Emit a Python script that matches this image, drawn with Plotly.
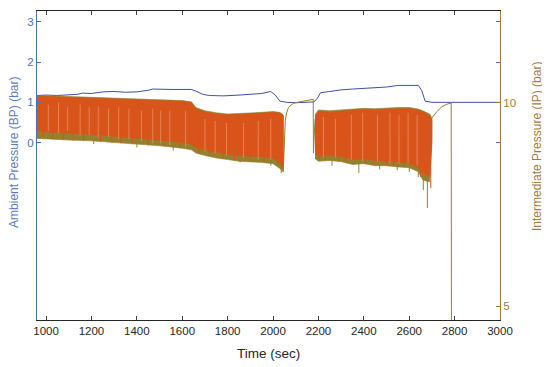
import plotly.graph_objects as go

# ---------------- data ----------------
# Ambient pressure BP (left axis, bar)
bp_time = [960, 1000, 1050, 1100, 1140, 1160, 1200, 1250, 1300, 1350, 1400, 1450, 1470, 1550,
           1600, 1640, 1660, 1690, 1720, 1780, 1850, 1900, 1950, 1990, 2010, 2030, 2060, 2100,
           2180, 2195, 2210, 2250, 2300, 2350, 2400, 2450, 2500, 2550, 2600, 2640, 2655, 2670,
           2700, 2800, 2900, 3000]
bp_value = [1.17, 1.18, 1.17, 1.18, 1.20, 1.23, 1.22, 1.26, 1.27, 1.25, 1.26, 1.30, 1.33, 1.32,
            1.33, 1.32, 1.28, 1.20, 1.17, 1.16, 1.18, 1.20, 1.22, 1.27, 1.18, 1.03, 1.00, 0.99,
            1.01, 1.10, 1.24, 1.27, 1.31, 1.33, 1.35, 1.37, 1.38, 1.42, 1.43, 1.42, 1.30, 1.03,
            1.00, 1.00, 0.99, 1.00]

# Intermediate pressure IP (right axis, bar) - oscillating band, segment 1
band1_time = [960, 1000, 1100, 1200, 1300, 1400, 1500, 1600, 1640, 1660, 1700, 1750, 1800,
              1850, 1900, 1950, 2000, 2030, 2045]
band1_upper = [10.17, 10.17, 10.15, 10.13, 10.10, 10.08, 10.07, 10.05, 10.02, 9.88, 9.80, 9.75,
               9.72, 9.73, 9.74, 9.76, 9.78, 9.76, 9.70]
band1_lower = [9.12, 9.10, 9.08, 9.06, 9.02, 8.98, 8.94, 8.88, 8.84, 8.76, 8.70, 8.64, 8.60,
               8.56, 8.54, 8.53, 8.50, 8.38, 8.30]
band1_orange_upper = [10.15, 10.15, 10.13, 10.11, 10.08, 10.06, 10.05, 10.03, 10.00, 9.84, 9.77,
                      9.72, 9.70, 9.71, 9.72, 9.74, 9.76, 9.74, 9.68]
band1_orange_lower = [9.32, 9.28, 9.25, 9.22, 9.18, 9.13, 9.08, 9.02, 8.98, 8.90, 8.84, 8.78,
                      8.74, 8.70, 8.68, 8.67, 8.64, 8.52, 8.42]

# recovery after segment 1 then drop into segment 2
rec1_time = [2045, 2050, 2054, 2060, 2068, 2080, 2090, 2110, 2134, 2160, 2177, 2178, 2185]
rec1_value = [8.30, 9.00, 9.57, 9.75, 9.88, 9.94, 9.98, 10.01, 10.04, 10.06, 10.08, 8.76, 9.60]

# oscillating band, segment 2
band2_time = [2185, 2200, 2250, 2300, 2350, 2400, 2450, 2500, 2550, 2600, 2640, 2660, 2690, 2700]
band2_upper = [9.70, 9.82, 9.80, 9.82, 9.84, 9.86, 9.85, 9.87, 9.88, 9.88, 9.84, 9.80, 9.72, 9.62]
band2_lower = [8.62, 8.56, 8.58, 8.55, 8.48, 8.50, 8.45, 8.45, 8.42, 8.40, 8.30, 8.10, 8.05, 9.00]
band2_orange_upper = [9.66, 9.78, 9.76, 9.79, 9.81, 9.83, 9.82, 9.84, 9.85, 9.85, 9.81, 9.77,
                      9.68, 9.58]
band2_orange_lower = [8.74, 8.70, 8.71, 8.68, 8.61, 8.62, 8.58, 8.57, 8.54, 8.51, 8.42, 8.26,
                      8.20, 9.10]

# recovery after segment 2 and final drop
rec2_time = [2700, 2710, 2722, 2744, 2766, 2785, 2787, 3000]
rec2_value = [9.62, 9.70, 9.78, 9.90, 9.96, 9.99, 0.0, 0.0]

# downward spikes below the band (olive)
spike_time = [1210, 1400, 1560, 1855, 1990, 2036, 2260, 2378, 2470, 2547, 2600, 2640, 2662, 2680]
spike_top = [9.3, 9.2, 9.1, 9.0, 9.0, 9.0, 9.0, 9.2, 9.0, 9.2, 9.0, 9.2, 9.0, 8.8]
spike_low = [8.98, 8.90, 8.82, 8.53, 8.45, 8.27, 8.45, 8.27, 8.36, 8.34, 8.30, 8.17, 7.85, 7.41]

# orange spikes reaching through the lower part of the band
ospike_time = [985, 1030, 1075, 1120, 1165, 1240, 1290, 1330, 1380, 1450, 1520, 1590, 1675,
               1720, 1780, 1830, 1900, 1960, 2020, 2205, 2230, 2290, 2320, 2410, 2440, 2500,
               2530, 2575, 2620, 2650, 2695]
ospike_top = [9.6, 9.6, 9.6, 9.5, 9.5, 9.5, 9.5, 9.4, 9.4, 9.4, 9.3, 9.3, 9.2, 9.2, 9.1, 9.1,
              9.1, 9.1, 9.0, 9.2, 9.2, 9.2, 9.2, 9.2, 9.2, 9.2, 9.2, 9.2, 9.2, 9.0, 9.6]
ospike_low = [9.12, 9.10, 9.09, 9.07, 9.06, 9.04, 9.02, 9.00, 8.98, 8.95, 8.93, 8.88, 8.76,
              8.70, 8.62, 8.58, 8.55, 8.54, 8.46, 8.58, 8.57, 8.56, 8.55, 8.50, 8.47, 8.46,
              8.44, 8.43, 8.40, 8.18, 7.90]

# light streaks crossing the band
streak_time = [1010, 1055, 1095, 1150, 1190, 1230, 1275, 1320, 1365, 1420, 1470, 1505, 1545,
               1615, 1700, 1745, 1795, 1870, 1935, 1990, 2222, 2275, 2345, 2395, 2460, 2515,
               2555, 2595, 2635]
streak_top = [9.95, 10.0, 9.9, 9.95, 9.9, 9.9, 9.85, 9.9, 9.85, 9.8, 9.85, 9.8, 9.8, 9.8, 9.6,
              9.55, 9.5, 9.5, 9.55, 9.6, 9.65, 9.6, 9.7, 9.75, 9.7, 9.75, 9.7, 9.75, 9.7]
streak_low = [9.3, 9.25, 9.3, 9.2, 9.2, 9.15, 9.15, 9.1, 9.1, 9.05, 9.0, 9.0, 8.95, 8.9, 8.8,
              8.75, 8.7, 8.65, 8.6, 8.6, 8.65, 8.65, 8.6, 8.55, 8.55, 8.5, 8.5, 8.5, 8.45]

x_ticks = [1000, 1200, 1400, 1600, 1800, 2000, 2200, 2400, 2600, 2800, 3000]
left_ticks = [0, 1, 2, 3]
right_ticks = [5, 10]

# ---------------- style ----------------
BLUE_LINE = "#3C4FAA"
BLUE_AXIS = "#4A6EBE"
ORANGE = "#D9541A"
OLIVE = "#94802E"
STREAK = "#EE9670"
BROWN_AXIS = "#A67A3E"
FONT = "Liberation Sans, Arial, sans-serif"

fig = go.Figure()


def band(t, up, lo, color, yaxis):
    xs = list(t) + list(reversed(t))
    ys = list(up) + list(reversed(lo))
    return go.Scatter(x=xs, y=ys, fill="toself", fillcolor=color, mode="lines",
                      line=dict(color=color, width=0.6), yaxis=yaxis,
                      hoverinfo="skip", showlegend=False)


def spikes(t, top, low):
    xs, ys = [], []
    for a, b, c in zip(t, top, low):
        xs += [a, a, None]
        ys += [b, c, None]
    return xs, ys


def segs(t, top, low, color, width):
    xs, ys = spikes(t, top, low)
    return go.Scatter(x=xs, y=ys, mode="lines", line=dict(color=color, width=width),
                      yaxis="y2", hoverinfo="skip", showlegend=False)


# IP traces (right axis)
fig.add_trace(band(band1_time, band1_upper, band1_lower, OLIVE, "y2"))
fig.add_trace(band(band2_time, band2_upper, band2_lower, OLIVE, "y2"))
fig.add_trace(segs(spike_time, spike_top, spike_low, OLIVE, 1))
fig.add_trace(go.Scatter(x=rec1_time, y=rec1_value, mode="lines", line=dict(color=OLIVE, width=1),
                         yaxis="y2", showlegend=False))
fig.add_trace(go.Scatter(x=rec2_time, y=rec2_value, mode="lines", line=dict(color=OLIVE, width=1),
                         yaxis="y2", showlegend=False))
fig.add_trace(band(band1_time, band1_orange_upper, band1_orange_lower, ORANGE, "y2"))
fig.add_trace(band(band2_time, band2_orange_upper, band2_orange_lower, ORANGE, "y2"))
fig.add_trace(segs(ospike_time, ospike_top, ospike_low, ORANGE, 1.0))
fig.add_trace(segs(streak_time, streak_top, streak_low, STREAK, 0.7))

# BP trace (left axis)
fig.add_trace(go.Scatter(x=bp_time, y=bp_value, mode="lines", line=dict(color=BLUE_LINE, width=1),
                         yaxis="y", showlegend=False))

# the page body has an 8 px margin, so the margins below are shifted by 8 px
fig.update_layout(
    width=550, height=367,
    margin=dict(l=29, r=58, t=3, b=55, autoexpand=False),
    paper_bgcolor="white", plot_bgcolor="white",
    font=dict(family=FONT, size=11.5, color="#262626"),
    showlegend=False,
    xaxis=dict(range=[960, 3000], tickvals=x_ticks, ticks="inside", ticklen=4,
               showline=True, linecolor="#262626", linewidth=1, mirror="ticks",
               showgrid=False, zeroline=False, automargin=False,
               tickfont=dict(size=11.5, color="#262626")),
    yaxis=dict(range=[-4.41, 3.27], tickvals=left_ticks, ticks="inside", ticklen=4,
               showline=True, linecolor=BLUE_AXIS, linewidth=1, mirror="ticks",
               tickcolor=BLUE_AXIS, tickfont=dict(size=11.5, color=BLUE_AXIS),
               showgrid=False, zeroline=False, automargin=False),
    yaxis2=dict(range=[4.66, 12.25], tickvals=right_ticks, ticks="inside", ticklen=4,
                overlaying="y", side="right", showline=True, linecolor=BROWN_AXIS,
                linewidth=1, tickcolor=BROWN_AXIS, tickfont=dict(size=11.5, color=BROWN_AXIS),
                showgrid=False, zeroline=False, automargin=False),
    annotations=[
        dict(text="Time (sec)", xref="paper", yref="paper", x=0.5, y=-0.107,
             showarrow=False, font=dict(size=13.5, color="#262626", family=FONT),
             xanchor="center", yanchor="middle"),
        dict(text="Ambient Pressure (BP) (bar)", xref="paper", yref="paper",
             x=-0.0497, y=0.544, textangle=-90, showarrow=False,
             font=dict(size=12, color="#5A7DC0", family=FONT), xanchor="center", yanchor="middle"),
        dict(text="Intermediate Pressure (IP) (bar)", xref="paper", yref="paper",
             x=1.08, y=0.56, textangle=-90, showarrow=False,
             font=dict(size=12, color=BROWN_AXIS, family=FONT), xanchor="center", yanchor="middle"),
    ],
)

fig.write_html("out.html")
